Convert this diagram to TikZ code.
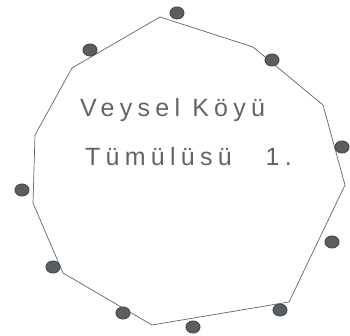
\documentclass[tikz,border=0pt]{standalone}
\usepackage{fontspec}
\setmainfont{Liberation Sans}
\newfontfamily\handfont[LetterSpace=21]{Liberation Sans}
\usetikzlibrary{shapes.geometric}
\definecolor{inkgray}{RGB}{100,100,100}
\definecolor{stonegray}{RGB}{88,94,98}
\tikzset{
  outline/.style={draw=inkgray, line width=0.7pt, line join=round},
  stone/.style={ellipse, draw=black!70, fill=stonegray, line width=1pt,
    minimum width=14pt, minimum height=12pt, inner sep=0pt},
  handtext/.style={anchor=base west, text=inkgray, inner sep=0pt,
    font=\handfont\fontsize{25}{30}\selectfont}
}

\begin{document}
\begin{tikzpicture}[x=1pt, y=-1pt]
  \useasboundingbox (0,0) rectangle (350,336);

  % corners of the outline
  \foreach \n/\p in {1/{160,17}, 2/{253,47}, 3/{323,105}, 4/{345,185},
      5/{289,302}, 6/{152,325}, 7/{63,273}, 8/{33,203}, 9/{35,135}, 10/{72,68}}
    \coordinate (c\n) at (\p);

  \draw[outline] (c1) -- (c2) -- (c3) -- (c4) -- (c5) -- (c6) -- (c7)
    -- (c8) -- (c9) -- (c10) -- cycle;

  % stones round the edge
  \foreach \n/\p in {1/{177,13}, 2/{272,60}, 3/{342,147}, 4/{332,242},
      5/{280,310}, 6/{193,327}, 7/{123,313}, 8/{53,267}, 9/{22,190}, 10/{90,50}}
    \node[stone] (s\n) at (\p) {};

  \node[handtext] (name1) at (80,117) {Veysel Köyü};
  \node[handtext] (name2) at (85,166) {Tümülüsü\hspace{34pt}1.};
\end{tikzpicture}
\end{document}
